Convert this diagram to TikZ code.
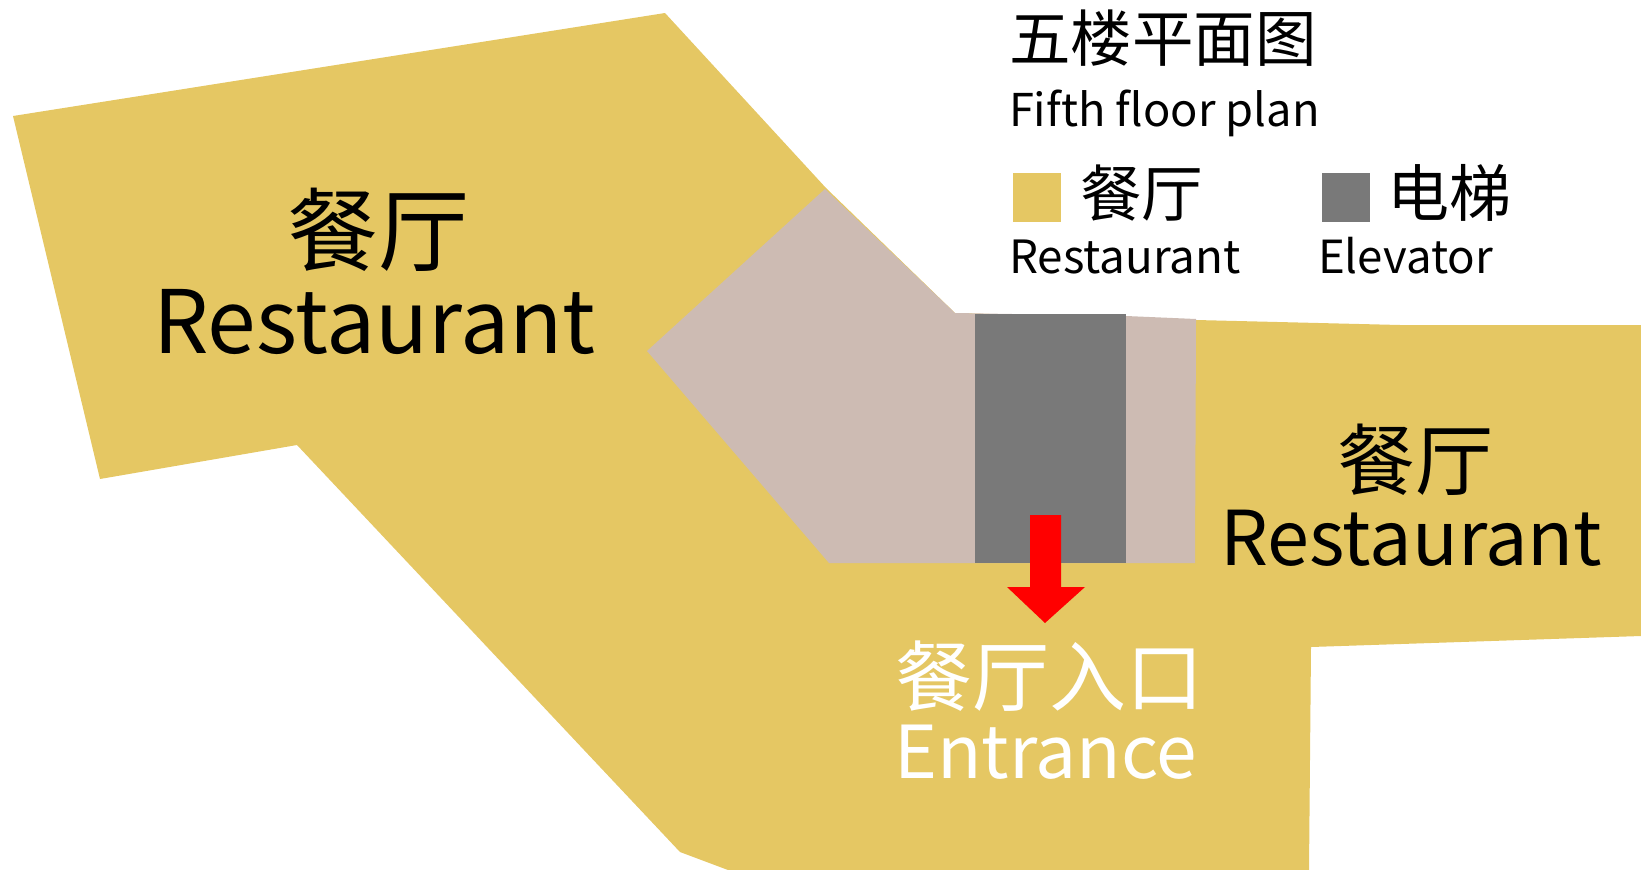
\documentclass[tikz,border=0pt]{standalone}
\usepackage{fontspec}
\setmainfont{Noto Sans CJK SC}
\definecolor{rest}{HTML}{E5C763}
\definecolor{lift}{HTML}{797979}
\definecolor{hall}{HTML}{CDBBB3}
\newcommand{\fsz}[1]{\fontsize{#1}{#1}\selectfont}
\tikzset{lbl/.style={inner sep=0pt,outer sep=0pt,anchor=base west}}
\begin{document}
\begin{tikzpicture}[x=1pt,y=-1pt]
\useasboundingbox (0,0) rectangle (1641,870);
\fill[rest] (13,116) -- (665,13) -- (826,188) -- (955,313) -- (1196,320) -- (1400,325) -- (1641,325) -- (1641,636) -- (1311,647) -- (1309,870) -- (728,870) -- (680,852) -- (297,445) -- (100,479) -- cycle;
\fill[hall] (825,189) -- (955,313) -- (1126,316) -- (1196,319) -- (1195,563) -- (829,563) -- (647,351) -- cycle;
\fill[lift] (975,314) rectangle (1126,563);
\fill[red] (1030,515) -- (1061,515) -- (1061,587) -- (1085,587) -- (1045,623) -- (1007,587) -- (1030,587) -- cycle;
\fill[rest] (1013,173) rectangle (1061,222);
\fill[lift] (1322,173) rectangle (1370,222);
\node[lbl] (title) at (1009,61) {\fsz{61.5}五楼平面图};
\node[lbl] (titleen) at (1009,126) {\fsz{45.2}Fifth floor plan};
\node[lbl] (lega) at (1080,216) {\fsz{61.5}餐厅};
\node[lbl] (legaen) at (1009,273) {\fsz{45.8}Restaurant};
\node[lbl] (legb) at (1387,216) {\fsz{62}电梯};
\node[lbl] (legben) at (1318,273) {\fsz{45.6}Elevator};
\node[lbl] (ra) at (287,264) {\fsz{91}餐厅};
\node[lbl] (raen) at (153,353) {\fsz{87.5}Restaurant};
\node[lbl] (rb) at (1337,489) {\fsz{78}餐厅};
\node[lbl] (rben) at (1220,565) {\fsz{75.6}Restaurant};
\node[lbl,text=white] (ent) at (895,705) {\fsz{77}餐厅入口};
\node[lbl,text=white] (enten) at (894,778) {\fsz{73}Entrance};
\end{tikzpicture}
\end{document}
